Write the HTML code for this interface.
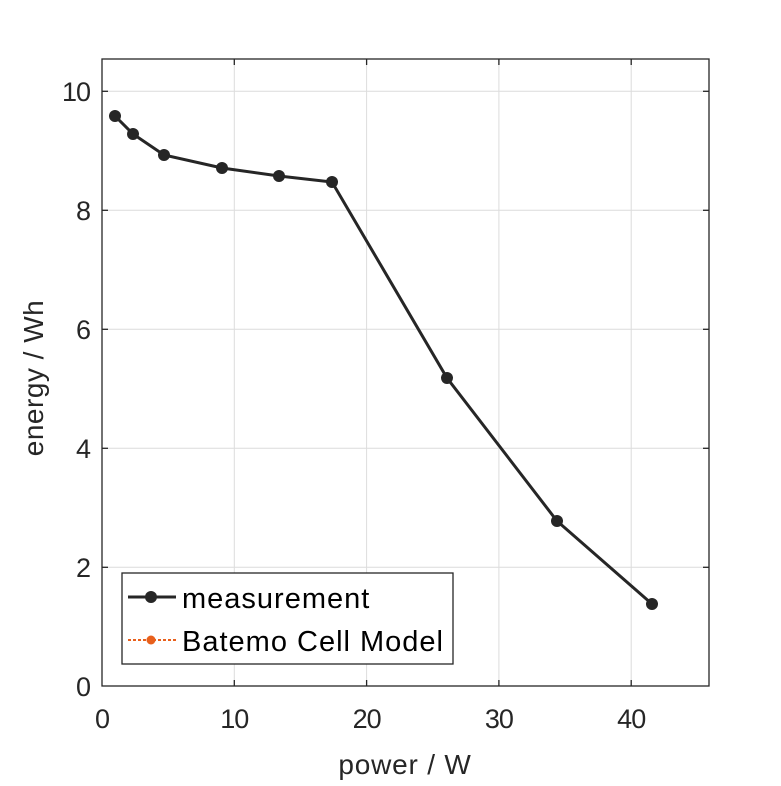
<!DOCTYPE html>
<html><head><meta charset="utf-8"><style>body{margin:0;background:#fff}</style></head><body>
<svg width="781" height="781" xmlns="http://www.w3.org/2000/svg" font-family="Liberation Sans, sans-serif" fill="#262626">
<rect width="781" height="781" fill="#fff"/>
<g stroke="#dcdcdc" stroke-width="1">
<line x1="234.3" y1="59" x2="234.3" y2="686"/><line x1="366.6" y1="59" x2="366.6" y2="686"/><line x1="498.9" y1="59" x2="498.9" y2="686"/><line x1="631.2" y1="59" x2="631.2" y2="686"/>
<line x1="102" y1="91.3" x2="709" y2="91.3"/><line x1="102" y1="210.3" x2="709" y2="210.3"/><line x1="102" y1="329.3" x2="709" y2="329.3"/><line x1="102" y1="448.3" x2="709" y2="448.3"/><line x1="102" y1="567.3" x2="709" y2="567.3"/>
</g>
<rect x="102" y="59" width="607" height="627" fill="none" stroke="#262626" stroke-width="1.3"/>
<g stroke="#262626" stroke-width="1.3">
<line x1="234.3" y1="686" x2="234.3" y2="680"/><line x1="366.6" y1="686" x2="366.6" y2="680"/><line x1="498.9" y1="686" x2="498.9" y2="680"/><line x1="631.2" y1="686" x2="631.2" y2="680"/>
<line x1="234.3" y1="59" x2="234.3" y2="65"/><line x1="366.6" y1="59" x2="366.6" y2="65"/><line x1="498.9" y1="59" x2="498.9" y2="65"/><line x1="631.2" y1="59" x2="631.2" y2="65"/>
<line x1="102" y1="91.3" x2="108" y2="91.3"/><line x1="102" y1="210.3" x2="108" y2="210.3"/><line x1="102" y1="329.3" x2="108" y2="329.3"/><line x1="102" y1="448.3" x2="108" y2="448.3"/><line x1="102" y1="567.3" x2="108" y2="567.3"/>
<line x1="709" y1="91.3" x2="703" y2="91.3"/><line x1="709" y1="210.3" x2="703" y2="210.3"/><line x1="709" y1="329.3" x2="703" y2="329.3"/><line x1="709" y1="448.3" x2="703" y2="448.3"/><line x1="709" y1="567.3" x2="703" y2="567.3"/>
</g>
<g font-size="27" text-anchor="middle" letter-spacing="-1">
<text x="102" y="728">0</text><text x="234.3" y="728">10</text><text x="366.6" y="728">20</text><text x="498.9" y="728">30</text><text x="631.2" y="728">40</text>
</g>
<g font-size="27" text-anchor="end" letter-spacing="-1">
<text x="90" y="696">0</text><text x="90" y="577">2</text><text x="90" y="458">4</text><text x="90" y="339">6</text><text x="90" y="220">8</text><text x="90" y="101">10</text>
</g>
<text x="405" y="774" font-size="28" text-anchor="middle" letter-spacing="0.8">power / W</text>
<text transform="translate(43,378) rotate(-90)" font-size="28" text-anchor="middle" letter-spacing="0.5">energy / Wh</text>
<polyline points="115,116 133,134 164,155 222,168 279,176 332,182 447,378 557,521 652,604" fill="none" stroke="#262626" stroke-width="3"/>
<g fill="#262626">
<circle cx="115" cy="116" r="6"/><circle cx="133" cy="134" r="6"/><circle cx="164" cy="155" r="6"/><circle cx="222" cy="168" r="6"/><circle cx="279" cy="176" r="6"/><circle cx="332" cy="182" r="6"/><circle cx="447" cy="378" r="6"/><circle cx="557" cy="521" r="6"/><circle cx="652" cy="604" r="6"/>
</g>
<rect x="122" y="573" width="331" height="91" fill="#fff" stroke="#262626" stroke-width="1.3"/>
<line x1="128" y1="597" x2="176" y2="597" stroke="#262626" stroke-width="3"/>
<circle cx="151" cy="597" r="6" fill="#262626"/>
<line x1="128" y1="640" x2="176" y2="640" stroke="#e8601c" stroke-width="2" stroke-dasharray="3,2"/>
<circle cx="151" cy="640" r="4.5" fill="#e8601c"/>
<g font-size="29" fill="#000" letter-spacing="1">
<text x="182" y="608">measurement</text>
<text x="182" y="651">Batemo Cell Model</text>
</g>
</svg>
</body></html>
